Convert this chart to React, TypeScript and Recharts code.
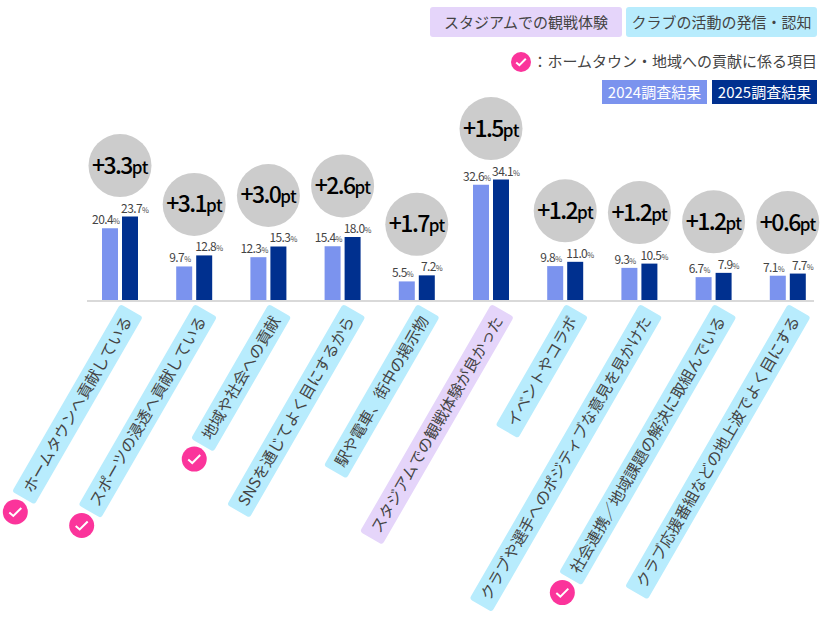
import * as React from "react";
import { Bar, BarChart, LabelList, XAxis, YAxis } from "recharts";

const categories = [
  "ホームタウンへ貢献している",
  "スポーツの浸透へ貢献している",
  "地域や社会への貢献",
  "SNSを通じてよく目にするから",
  "駅や電車、街中の掲示物",
  "スタジアムでの観戦体験が良かった",
  "イベントやコラボ",
  "クラブや選手へのポジティブな意見を見かけた",
  "社会連携／地域課題の解決に取組んでいる",
  "クラブ応援番組などの地上波でよく目にする",
];
const values2024 = [20.4, 9.7, 12.3, 15.4, 5.5, 32.6, 9.8, 9.3, 6.7, 7.1];
const values2025 = [23.7, 12.8, 15.3, 18.0, 7.2, 34.1, 11.0, 10.5, 7.9, 7.7];
const deltas = ["+3.3", "+3.1", "+3.0", "+2.6", "+1.7", "+1.5", "+1.2", "+1.2", "+1.2", "+0.6"];
const stadiumItems = [false, false, false, false, false, true, false, false, false, false];
const hometownItems = [true, true, true, false, false, false, false, false, true, false];

const chartData = categories.map((name, i) => ({
  name,
  y2024: values2024[i],
  y2025: values2025[i],
  delta: deltas[i],
}));

const FONT = '"Noto Sans CJK JP", "Noto Sans", sans-serif';
const TEXT = "#444444";
const COLOR_2024 = "#7b93ee";
const COLOR_2025 = "#00308f";
const CYAN = "#b8ecfd";
const PURPLE = "#e5d5fa";
const PINK = "#fb349b";

const CheckMark = ({ cx, cy, r }: { cx: number; cy: number; r: number }) => {
  const s = r / 12.5;
  return (
    <g transform={`translate(${cx},${cy})`}>
      <circle r={r} fill={PINK} />
      <path
        d={`M${-6 * s} ${0.5 * s}L${-2 * s} ${4 * s}L${6 * s} ${-4 * s}`}
        fill="none"
        stroke="#fff"
        strokeWidth={2}
      />
    </g>
  );
};

// rotated pill under each category
const CategoryTag = ({ x, index, payload }: any) => {
  const textRef = React.useRef<SVGTextElement>(null);
  const [len, setLen] = React.useState(payload.value.length * 15.5);
  React.useLayoutEffect(() => {
    if (textRef.current) setLen(textRef.current.getComputedTextLength());
  }, [payload.value]);
  const total = len + 16;
  const rad = (60 * Math.PI) / 180;
  const tx = x + 11.5;
  const ty = 310.5;
  return (
    <g>
      <g transform={`translate(${tx},${ty}) rotate(-60)`}>
        <rect
          x={-total}
          y={-13}
          width={total}
          height={26}
          rx={3}
          fill={stadiumItems[index] ? PURPLE : CYAN}
        />
        <text
          ref={textRef}
          x={-8}
          y={0}
          dy="0.36em"
          textAnchor="end"
          fontFamily={FONT}
          fontSize={15.5}
          fill={TEXT}
        >
          {payload.value}
        </text>
      </g>
      {hometownItems[index] && (
        <CheckMark
          cx={tx - Math.cos(rad) * (total + 16)}
          cy={ty + Math.sin(rad) * (total + 16)}
          r={12.5}
        />
      )}
    </g>
  );
};

const ValueLabel = ({ x, y, width, value, shift }: any) => (
  <text
    x={x + width / 2 + shift}
    y={y - 4}
    textAnchor="middle"
    fontFamily={FONT}
    fill={TEXT}
  >
    <tspan fontSize={12} letterSpacing={-0.6}>
      {Number(value).toFixed(1)}
    </tspan>
    <tspan fontSize={7.5}>%</tspan>
  </text>
);

const DeltaBubble = ({ x, y, value }: any) => {
  const cx = x - 2;
  const cy = y - 51;
  return (
    <g>
      <circle cx={cx} cy={cy} r={31.5} fill="#cccccc" />
      <text x={cx} y={cy + 8} textAnchor="middle" fontFamily={FONT} fontWeight={500} fill="#000">
        <tspan fontSize={23} letterSpacing={-1.6}>
          {value}
        </tspan>
        <tspan fontSize={17} letterSpacing={-0.5}>
          pt
        </tspan>
      </text>
    </g>
  );
};

const chip = (
  left: number,
  top: number,
  width: number,
  height: number,
  background: string,
  color: string,
  fontSize: number,
  label: string
) => (
  <div
    style={{
      position: "absolute",
      left,
      top,
      width,
      height,
      lineHeight: `${height}px`,
      background,
      color,
      fontSize,
      fontFamily: FONT,
      textAlign: "center",
      borderRadius: height > 26 ? 3 : 0,
      whiteSpace: "nowrap",
    }}
  >
    {label}
  </div>
);

export default function App() {
  return (
    <div style={{ position: "absolute", left: 0, top: 0, width: 821, height: 626, overflow: "hidden" }}>
      <BarChart
        width={821}
        height={626}
        data={chartData}
        barSize={16}
        barGap={4}
        margin={{ top: 0, right: 7, bottom: 0, left: 87 }}
      >
        <XAxis
          dataKey="name"
          height={325}
          interval={0}
          tickLine={false}
          axisLine={{ stroke: "#d9d9d9", strokeWidth: 2 }}
          padding={{ left: -4, right: -11 }}
          tick={(props: any) => <CategoryTag {...props} />}
        />
        <YAxis hide domain={[0, 84.5]} />
        <Bar dataKey="y2024" fill={COLOR_2024} isAnimationActive={false}>
          <LabelList dataKey="y2024" content={(p: any) => <ValueLabel {...p} shift={-4} />} />
        </Bar>
        <Bar dataKey="y2025" fill={COLOR_2025} isAnimationActive={false}>
          <LabelList dataKey="y2025" content={(p: any) => <ValueLabel {...p} shift={5} />} />
          <LabelList dataKey="delta" content={(p: any) => <DeltaBubble {...p} />} />
        </Bar>
      </BarChart>
      {chip(430, 7, 192, 30, PURPLE, TEXT, 15, "スタジアムでの観戦体験")}
      {chip(626, 7, 191, 30, CYAN, TEXT, 15, "クラブの活動の発信・認知")}
      <svg style={{ position: "absolute", left: 508, top: 49 }} width={26} height={26}>
        <CheckMark cx={13} cy={13} r={10} />
      </svg>
      <div
        style={{
          position: "absolute",
          right: 4,
          top: 49,
          lineHeight: "24px",
          fontSize: 15,
          fontFamily: FONT,
          color: TEXT,
          whiteSpace: "nowrap",
        }}
      >
        ：ホームタウン・地域への貢献に係る項目
      </div>
      {chip(602, 80, 105, 24, COLOR_2024, "#fff", 15, "2024調査結果")}
      {chip(712, 80, 105, 24, COLOR_2025, "#fff", 15, "2025調査結果")}
    </div>
  );
}
